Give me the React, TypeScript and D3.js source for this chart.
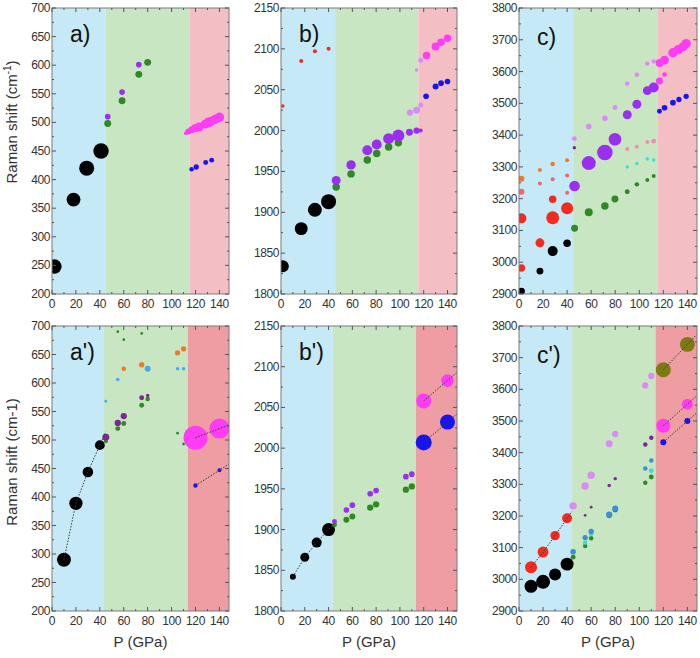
import React from 'react'
import * as d3 from 'd3'

// each point: [P (GPa), Raman shift (cm-1), relative intensity]
type Pt = [number, number, number]

// ---- a) low-frequency modes
const aBlack: Pt[] = [[2, 248, 52], [18, 365, 48], [29, 420, 56], [41, 450, 60]]
const aGreen: Pt[] = [[46.6, 498, 12], [58.6, 538, 12], [72.6, 584, 12], [80, 605, 12]]
const aPurple: Pt[] = [[46.6, 510, 8], [58.6, 553, 8], [72.6, 601, 8]]
const aMagenta: Pt[] = [[112, 481, 4], [114, 484, 9], [117, 487, 12], [120, 490, 16], [123, 492, 20], [128, 497, 20], [131, 500, 25], [133, 502, 20], [136, 505, 20], [138, 507, 20], [140, 509, 22]]
const aBlue: Pt[] = [[116.7, 418, 5], [120.6, 422, 7], [128.5, 430, 6], [133.5, 434, 6]]

// ---- b)
const bBlack: Pt[] = [[1.5, 1834, 36], [17, 1880, 42], [28.5, 1903, 49], [40, 1913, 56]]
const bRed: Pt[] = [[1.5, 2030, 3], [17, 2085, 4], [28.5, 2097, 4], [40, 2100, 4]]
const bGreen: Pt[] = [[46.4, 1931, 14], [58.9, 1947, 14], [72.6, 1964, 14], [80.5, 1972, 14], [90.5, 1980, 14], [98.7, 1985, 14]]
const bPurple: Pt[] = [[46.4, 1939, 20], [58.9, 1958, 22], [72.6, 1976, 25], [80.5, 1983, 25], [90.5, 1990, 30], [98.7, 1994, 36], [108, 1998, 12], [114, 2000, 10], [117.5, 2000, 4]]
const bViolet: Pt[] = [[108.4, 2022, 10], [114, 2025, 12], [117.5, 2031, 6], [114, 2074, 3], [117.5, 2086, 6]]
const bMagenta: Pt[] = [[122.4, 2092, 14], [130, 2103, 16], [134.6, 2108, 14], [140, 2113, 14]]
const bBlue: Pt[] = [[122, 2042, 8], [130, 2054, 9], [134.6, 2058, 8], [140, 2060, 8]]

// ---- c)
const cBlack: Pt[] = [[2, 2909, 12], [17.4, 2972, 12], [28, 3035, 25], [40, 3060, 14]]
const cRed: Pt[] = [[2, 2982, 14], [2, 3138, 25], [17.4, 3061, 20], [28, 3140, 42], [28, 3198, 14], [40, 3170, 36]]
const cSalmon: Pt[] = [[2, 3222, 9], [17.4, 3248, 4], [28, 3261, 4], [40, 3273, 4], [40, 3219, 4]]
const cOrange: Pt[] = [[2, 3263, 9], [17.4, 3290, 4], [28, 3309, 5], [40, 3321, 4]]
const cGreen: Pt[] = [[46.2, 3107, 12], [58, 3157, 16], [71.4, 3177, 14], [79.8, 3199, 12], [90, 3222, 6], [98, 3245, 5], [106.7, 3259, 4], [112, 3271, 4]]
const cCyan: Pt[] = [[90, 3300, 3], [98, 3311, 3], [106.7, 3325, 3], [112, 3322, 3]]
const cPink: Pt[] = [[90, 3356, 4], [98, 3363, 4], [106.7, 3378, 4], [112, 3381, 6]]
const cDarkPurple: Pt[] = [[46, 3360, 3]]
const cPurple: Pt[] = [[46.2, 3240, 28], [58, 3312, 49], [71.4, 3345, 60], [79.8, 3387, 40], [90, 3464, 20], [98, 3497, 20], [106.7, 3540, 20], [112, 3550, 25]]
const cViolet: Pt[] = [[46, 3389, 6], [58, 3427, 8], [71.4, 3453, 8], [79.8, 3487, 6], [90, 3562, 5], [98, 3590, 5], [106.7, 3625, 5], [112, 3632, 5]]
const cMagenta: Pt[] = [[116.8, 3570, 12], [121, 3591, 5], [117, 3627, 16], [121, 3636, 20], [128, 3659, 22], [132.5, 3669, 22], [136.4, 3678, 20], [139, 3688, 22]]
const cBlue: Pt[] = [[116.8, 3475, 6], [121, 3486, 8], [128, 3502, 8], [133, 3512, 7], [139, 3522, 7]]

// ---- a')
const a2Black: Pt[] = [[10, 290, 49], [20, 389, 44], [30, 444, 28], [40, 491, 24]]
const a2Purple: Pt[] = [[45, 505, 12], [55, 530, 10], [60, 542, 10], [75, 574, 6], [80, 578, 3]]
const a2Green: Pt[] = [[45, 498, 4], [55, 520, 6], [60, 529, 6], [75, 561, 6], [80, 572, 5], [55, 690, 2], [60, 676, 2], [75, 687, 2], [105, 512, 2], [110, 493, 2]]
const a2Orange: Pt[] = [[60, 625, 5], [75, 632, 7], [105, 653, 7], [110, 660, 7]]
const a2Sky: Pt[] = [[45, 568, 2], [55, 606, 3], [80, 625, 9], [105, 625, 3], [110, 625, 3]]
const a2Magenta: Pt[] = [[120, 504, 144], [140, 520, 100]]
const a2Blue: Pt[] = [[120, 420, 5], [140, 447, 4]]

// ---- b')
const b2Black: Pt[] = [[10, 1842, 9], [20, 1866, 20], [30, 1884, 25], [40, 1900, 42]]
const b2Green: Pt[] = [[45, 1906, 6], [55, 1912, 9], [60, 1916, 9], [75, 1927, 10], [80, 1931, 10], [105, 1949, 10], [110, 1953, 10]]
const b2Purple: Pt[] = [[45, 1910, 6], [55, 1924, 8], [60, 1930, 8], [75, 1944, 8], [80, 1948, 8], [105, 1965, 8], [110, 1968, 8]]
const b2Magenta: Pt[] = [[120, 2058, 56], [140, 2083, 40]]
const b2Blue: Pt[] = [[120, 2007, 64], [140, 2032, 56]]

// ---- c')
const c2Black: Pt[] = [[10, 2978, 42], [20, 2992, 49], [30, 3015, 36], [40, 3048, 42]]
const c2Red: Pt[] = [[10, 3038, 36], [20, 3086, 30], [30, 3138, 22], [40, 3193, 25]]
const c2Violet: Pt[] = [[45, 3232, 14], [55, 3295, 14], [60, 3329, 14], [75, 3428, 12], [80, 3459, 10], [105, 3612, 10], [110, 3642, 10]]
const c2DarkPurple: Pt[] = [[55, 3202, 2], [60, 3228, 2], [75, 3296, 3], [80, 3318, 3], [105, 3426, 5], [110, 3447, 5]]
const c2Steel: Pt[] = [[45, 3087, 8], [55, 3132, 7], [60, 3151, 7], [75, 3204, 10], [80, 3224, 9], [105, 3350, 5], [110, 3375, 5]]
const c2Cyan: Pt[] = [[55, 3116, 5], [60, 3142, 4], [80, 3222, 4], [110, 3343, 6]]
const c2Green: Pt[] = [[45, 3070, 6], [55, 3105, 5], [60, 3130, 5], [75, 3200, 5], [80, 3220, 7], [105, 3305, 5], [110, 3323, 6]]
const c2Olive: Pt[] = [[120, 3662, 56], [140, 3742, 56]]
const c2Magenta: Pt[] = [[120, 3485, 49], [140, 3553, 30]]
const c2Blue: Pt[] = [[120, 3433, 9], [140, 3500, 9]]

const pTicks = [0, 20, 40, 60, 80, 100, 120, 140]

const C = {
  black: '#000000', green: '#2f8a25', purple: '#9a2ff0', violet: '#d98cf2', magenta: '#ff3cf5',
  blue: '#1414f5', red: '#f42a1f', salmon: '#f0646a', orange: '#ee7a22', cyan: '#40dccc',
  pink: '#ee8fb0', darkPurple: '#7a2a8e', sky: '#45aaf0', steel: '#3a8ede', olive: '#7d7a12'
}

type Layer = [Pt[], string]
type Fit = { pts: Pt[]; extend?: number }
type Panel = {
  label: string; col: number; row: number; y: [number, number]; yStep: number
  phases: [number, number]; layers: Layer[]; fits: Fit[]
}

const panels: Panel[] = [
  { label: 'a)', col: 0, row: 0, y: [200, 700], yStep: 50, phases: [45, 115], fits: [],
    layers: [[aBlack, C.black], [aGreen, C.green], [aPurple, C.purple], [aMagenta, C.magenta], [aBlue, C.blue]] },
  { label: 'b)', col: 1, row: 0, y: [1800, 2150], yStep: 50, phases: [45.5, 115.5], fits: [],
    layers: [[bBlack, C.black], [bRed, C.red], [bGreen, C.green], [bPurple, C.purple], [bViolet, C.violet], [bMagenta, C.magenta], [bBlue, C.blue]] },
  { label: 'c)', col: 2, row: 0, y: [2900, 3800], yStep: 100, phases: [45, 115], fits: [],
    layers: [[cBlack, C.black], [cRed, C.red], [cSalmon, C.salmon], [cOrange, C.orange], [cGreen, C.green], [cCyan, C.cyan], [cPink, C.pink],
      [cDarkPurple, C.darkPurple], [cViolet, C.violet], [cPurple, C.purple], [cMagenta, C.magenta], [cBlue, C.blue]] },
  { label: "a')", col: 0, row: 1, y: [200, 700], yStep: 50, phases: [43.5, 113.5],
    fits: [{ pts: a2Black, extend: 45 }, { pts: a2Magenta, extend: 148 }, { pts: a2Blue, extend: 148 }],
    layers: [[a2Black, C.black], [a2Green, C.green], [a2Purple, C.darkPurple], [a2Orange, C.orange], [a2Sky, C.sky], [a2Magenta, C.magenta], [a2Blue, C.blue]] },
  { label: "b')", col: 1, row: 1, y: [1800, 2150], yStep: 50, phases: [43.5, 113.5],
    fits: [{ pts: b2Black, extend: 45 }, { pts: b2Magenta, extend: 148 }, { pts: b2Blue, extend: 148 }],
    layers: [[b2Black, C.black], [b2Green, C.green], [b2Purple, C.purple], [b2Magenta, C.magenta], [b2Blue, C.blue]] },
  { label: "c')", col: 2, row: 1, y: [2900, 3800], yStep: 100, phases: [43.5, 113.5],
    fits: [{ pts: c2Red, extend: 44 }, { pts: c2Olive, extend: 148 }, { pts: c2Magenta, extend: 148 }, { pts: c2Blue, extend: 148 }],
    layers: [[c2Black, C.black], [c2Red, C.red], [c2Green, C.green], [c2Cyan, C.cyan], [c2Steel, C.steel], [c2DarkPurple, C.darkPurple],
      [c2Violet, C.violet], [c2Olive, C.olive], [c2Magenta, C.magenta], [c2Blue, C.blue]] }
]

const colX = [52, 281, 519]
const colW = [177, 176, 178]
const rowY = [8, 326]
const rowH = [286, 285]
const regionFill = [
  ['#c6e9f8', '#c9e6c3', '#f3bfc4'],
  ['#c6e9f8', '#c9e6c3', '#ee9ea2']
]
const font = 'Arial, "Liberation Sans", sans-serif'
const rScale = d3.scaleSqrt().domain([0, 100]).range([0, 10])

function PanelView({ p }: { p: Panel }) {
  const x0 = colX[p.col], w = colW[p.col], y0 = rowY[p.row], h = rowH[p.row]
  const x = d3.scaleLinear().domain([0, 148]).range([x0, x0 + w])
  const y = d3.scaleLinear().domain(p.y).range([y0 + h, y0])
  const yTicks = d3.range(p.y[0], p.y[1] + 1, p.yStep)
  const yMinor = d3.range(p.y[0] + p.yStep / 2, p.y[1], p.yStep)
  const xMinor = d3.range(10, 148, 20)
  const bounds = [0, p.phases[0], p.phases[1], 148]
  const line = d3.line<[number, number]>().x(d => x(d[0])).y(d => y(d[1]))
  const clipId = 'clip' + p.col + p.row

  const fitPath = (f: Fit) => {
    const pts: [number, number][] = f.pts.map(d => [d[0], d[1]])
    if (f.extend != null) {
      const [a, b] = pts.slice(-2)
      const s = (b[1] - a[1]) / (b[0] - a[0])
      pts.push([f.extend, b[1] + s * (f.extend - b[0])])
    }
    return line(pts) || ''
  }

  const tick = 4
  return (
    <g>
      <defs>
        <clipPath id={clipId}><rect x={x0} y={y0} width={w} height={h} /></clipPath>
      </defs>
      {bounds.slice(0, 3).map((b, i) => (
        <rect key={i} x={x(b)} y={y0} width={x(bounds[i + 1]) - x(b)} height={h} fill={regionFill[p.row][i]} />
      ))}
      <g clipPath={`url(#${clipId})`}>
        {p.layers.map(([pts, color], li) => pts.map((d, i) => (
          <circle key={li + '-' + i} cx={x(d[0])} cy={y(d[1])} r={rScale(d[2])} fill={color} />
        )))}
        {p.fits.map((f, i) => (
          <path key={i} d={fitPath(f)} fill="none" stroke="#3a3a3a" strokeWidth={1} strokeDasharray="1.5,1.5" />
        ))}
      </g>
      <rect x={x0} y={y0} width={w} height={h} fill="none" stroke="#7a7a7a" strokeWidth={1} />
      {pTicks.map(t => (
        <g key={'x' + t} stroke="#555">
          <line x1={x(t)} x2={x(t)} y1={y0 + h} y2={y0 + h - tick} />
          <line x1={x(t)} x2={x(t)} y1={y0} y2={y0 + tick} />
        </g>
      ))}
      {xMinor.map(t => (
        <g key={'xm' + t} stroke="#555">
          <line x1={x(t)} x2={x(t)} y1={y0 + h} y2={y0 + h - 2} />
          <line x1={x(t)} x2={x(t)} y1={y0} y2={y0 + 2} />
        </g>
      ))}
      {yTicks.map(t => (
        <g key={'y' + t} stroke="#555">
          <line x1={x0} x2={x0 + tick} y1={y(t)} y2={y(t)} />
          <line x1={x0 + w} x2={x0 + w - tick} y1={y(t)} y2={y(t)} />
        </g>
      ))}
      {yMinor.map(t => (
        <g key={'ym' + t} stroke="#555">
          <line x1={x0} x2={x0 + 2} y1={y(t)} y2={y(t)} />
          <line x1={x0 + w} x2={x0 + w - 2} y1={y(t)} y2={y(t)} />
        </g>
      ))}
      <g fontFamily={font} fontSize={12} fill="#333">
        {yTicks.map(t => (
          <text key={t} x={x0 - 2} y={y(t) + 4} textAnchor="end" letterSpacing={-0.4}>{t}</text>
        ))}
        {pTicks.map(t => (
          <text key={t} x={x(t)} y={y0 + h + 14} textAnchor="middle" letterSpacing={-0.4}>{t}</text>
        ))}
      </g>
      <text x={x0 + 18} y={y0 + (p.col === 2 ? 37 : 34)} fontFamily={font} fontSize={23} fill="#111">{p.label}</text>
      {p.row === 1 && (
        <text x={x0 + w / 2} y={647} textAnchor="middle" fontFamily={font} fontSize={15} fill="#333">P (GPa)</text>
      )}
    </g>
  )
}

export default function App() {
  return (
    <svg width={700} height={658} style={{ position: 'absolute', left: 0, top: 0, background: '#fff' }}>
      {panels.map(p => <PanelView key={p.label} p={p} />)}
      <text transform="translate(17,122) rotate(-90)" textAnchor="middle" fontFamily={font} fontSize={15} fill="#333">
        Raman shift (cm<tspan dy={-6} fontSize={10}>-1</tspan><tspan dy={6}>)</tspan>
      </text>
      <text transform="translate(17,462) rotate(-90)" textAnchor="middle" fontFamily={font} fontSize={15} fill="#333">
        Raman shift (cm-1)
      </text>
    </svg>
  )
}
